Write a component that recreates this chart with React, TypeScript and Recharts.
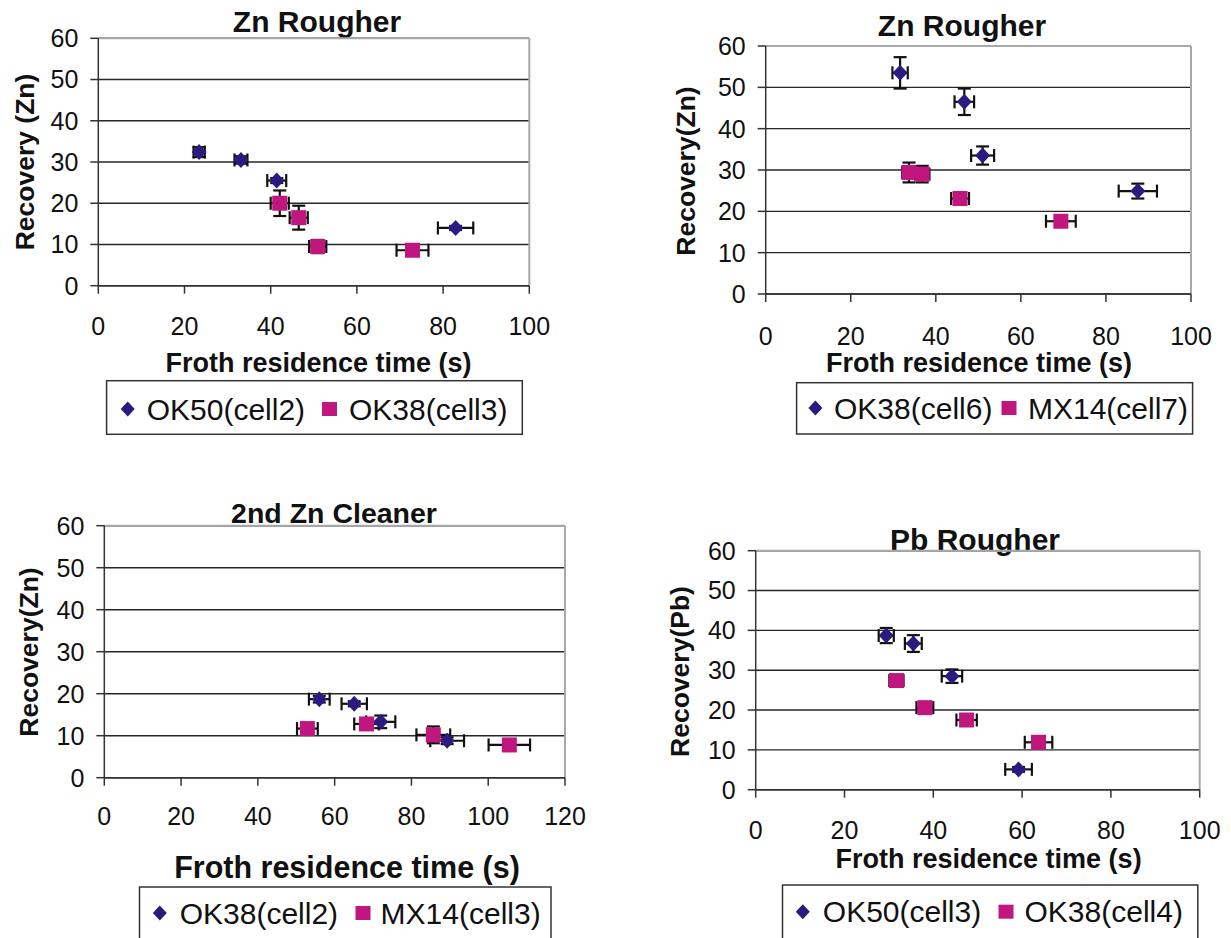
import React from 'react';
import { ScatterChart, Scatter, XAxis, YAxis, CartesianGrid, ErrorBar, ReferenceLine } from 'recharts';

const FONT = '"Liberation Sans", Arial, Helvetica, sans-serif';
const DIAMOND_COLOR = '#2B1A80';
const SQUARE_COLOR = '#C0167E';

// ---- tick labels ----
const yTicks = [0, 10, 20, 30, 40, 50, 60];
const xTicks100 = [0, 20, 40, 60, 80, 100];
const xTicks120 = [0, 20, 40, 60, 80, 100, 120];

// ---- chart 1 : Zn Rougher ----
const c1Names = ['OK50(cell2)', 'OK38(cell3)'];
const c1aX = [23.4, 33.1, 41.4, 82.9];
const c1aY = [32.4, 30.5, 25.5, 14.0];
const c1aXErr = [1.3, 1.5, 2.2, 4.1];
const c1aYErr = [1.2, 0.9, 0.6, 0.5];
const c1bX = [42.1, 46.5, 50.9, 72.9];
const c1bY = [20.0, 16.5, 9.5, 8.6];
const c1bXErr = [2.1, 2.1, 2.0, 3.7];
const c1bYErr = [3.1, 2.9, 1.6, 0.5];

// ---- chart 2 : Zn Rougher ----
const c2Names = ['OK38(cell6)', 'MX14(cell7)'];
const c2aX = [31.6, 46.7, 51.0, 87.5];
const c2aY = [53.5, 46.5, 33.5, 24.9];
const c2aXErr = [1.8, 2.3, 2.7, 4.5];
const c2aYErr = [3.8, 3.2, 2.2, 1.8];
const c2bX = [33.7, 36.8, 45.7, 69.4];
const c2bY = [29.4, 29.0, 23.1, 17.6];
const c2bXErr = [1.6, 1.7, 2.1, 3.5];
const c2bYErr = [2.4, 2.0, 0.8, 0.6];

// ---- chart 3 : 2nd Zn Cleaner ----
const c3Names = ['OK38(cell2)', 'MX14(cell3)'];
const c3aX = [56.0, 65.1, 72.0, 89.3];
const c3aY = [18.7, 17.6, 13.3, 8.8];
const c3aXErr = [2.7, 3.3, 3.8, 4.4];
const c3aYErr = [0.8, 0.6, 1.5, 0.8];
const c3bX = [52.9, 68.3, 85.7, 105.5];
const c3bY = [11.7, 12.8, 10.2, 7.8];
const c3bXErr = [2.7, 3.2, 4.4, 5.4];
const c3bYErr = [0.8, 1.0, 2.0, 0.6];

// ---- chart 4 : Pb Rougher ----
const c4Names = ['OK50(cell3)', 'OK38(cell4)'];
const c4aX = [29.4, 35.5, 44.2, 59.2];
const c4aY = [38.7, 36.7, 28.5, 5.1];
const c4aXErr = [1.7, 1.9, 2.3, 3.0];
const c4aYErr = [1.9, 2.1, 1.7, 0.6];
const c4bX = [31.7, 38.1, 47.5, 63.7];
const c4bY = [27.4, 20.6, 17.5, 11.9];
const c4bXErr = [1.6, 1.9, 2.3, 3.1];
const c4bYErr = [0.6, 0.8, 0.8, 0.8];

const build = (xs: number[], ys: number[], exs: number[], eys: number[]) =>
  xs.map((x, i) => ({ x, y: ys[i], ex: exs[i], ey: eys[i] }));

const DiamondShape = (p: any) => {
  const { cx, cy } = p;
  if (cx == null || cy == null) return null;
  const r = 8;
  return (
    <polygon
      points={`${cx},${cy - r} ${cx + r - 0.5},${cy} ${cx},${cy + r} ${cx - r + 0.5},${cy}`}
      fill={DIAMOND_COLOR}
    />
  );
};

const SquareShape = (p: any) => {
  const { cx, cy } = p;
  if (cx == null || cy == null) return null;
  return <rect x={cx - 7.5} y={cy - 7.5} width={15} height={15} fill={SQUARE_COLOR} />;
};

type Layout = {
  box: [number, number, number, number];
  plot: [number, number, number, number];
  xtm: number;
  title: [number, number, number];
  ylab: [number, number];
  xlab: [number, number, number];
  legBox: [number, number, number, number];
  leg: [number, number, number, number, number];
};

const layouts: Layout[] = [
  {
    box: [0, 0, 615, 469],
    plot: [98.3, 529.3, 38.3, 285.7],
    xtm: 24,
    title: [317, 32, 30],
    ylab: [25, 162],
    xlab: [318.5, 371.7, 27],
    legBox: [106.6, 380.7, 522.3, 434.3],
    leg: [127.7, 146.7, 329.5, 349, 409],
  },
  {
    box: [615, 0, 616, 469],
    plot: [765.7, 1191, 46, 294],
    xtm: 25,
    title: [962, 36, 30],
    ylab: [686, 171],
    xlab: [979, 372, 27],
    legBox: [796.6, 382.7, 1192.6, 434],
    leg: [815.4, 834, 1009, 1028, 408],
  },
  {
    box: [0, 469, 615, 469],
    plot: [104.3, 565, 525.7, 777.7],
    xtm: 22,
    title: [334, 523.3, 28.5],
    ylab: [28.5, 652],
    xlab: [347, 878, 30.5],
    legBox: [139.5, 887, 551, 970],
    leg: [159.8, 179.7, 363, 380.6, 913],
  },
  {
    box: [615, 469, 616, 469],
    plot: [755.7, 1199.7, 550.7, 789.7],
    xtm: 24,
    title: [975, 550, 30],
    ylab: [680, 671.5],
    xlab: [988.6, 868.3, 27],
    legBox: [782.5, 885, 1197.8, 970],
    leg: [802.8, 822.8, 1006, 1024.5, 911.7],
  },
];

type PanelProps = {
  cfg: Layout;
  s1: any[];
  s2: any[];
  names: string[];
  title: string;
  ylabel: string;
  xMax: number;
  xTicks: number[];
};

const Panel = ({ cfg, s1, s2, names, title, ylabel, xMax, xTicks }: PanelProps) => {
  const [bl, bt, bw, bh] = cfg.box;
  const [px0, px1, py0, py1] = cfg.plot;
  const xAxisH = 70;
  const margin = {
    left: 0,
    top: py0 - bt,
    right: bl + bw - px1,
    bottom: bt + bh - py1 - xAxisH,
  };
  const yAxisW = px0 - bl;
  const tickStyle = { fill: '#111', fontSize: 25, fontFamily: FONT };
  const axisStyle = { stroke: '#333', strokeWidth: 1.5 };
  const ylx = cfg.ylab[0] - bl;
  const yly = cfg.ylab[1] - bt;
  const [lx0, ly0, lx1, ly1] = cfg.legBox;
  const [dX, t1X, sX, t2X, lcy] = cfg.leg;
  const cy = lcy - bt;
  return (
    <div style={{ position: 'absolute', left: bl, top: bt, width: bw, height: bh }}>
      <ScatterChart width={bw} height={bh} margin={margin}>
        <CartesianGrid vertical={false} stroke="#262626" strokeWidth={1.4} />
        <XAxis
          type="number"
          dataKey="x"
          domain={[0, xMax]}
          ticks={xTicks}
          interval={0}
          height={xAxisH}
          tickSize={8}
          tickMargin={cfg.xtm}
          axisLine={axisStyle}
          tickLine={axisStyle}
          tick={tickStyle}
        />
        <YAxis
          type="number"
          dataKey="y"
          domain={[0, 60]}
          ticks={yTicks}
          interval={0}
          width={yAxisW}
          tickSize={8}
          tickMargin={12}
          axisLine={axisStyle}
          tickLine={axisStyle}
          tick={tickStyle}
        />
        <ReferenceLine y={60} stroke="#a8a8a8" strokeWidth={2} />
        <ReferenceLine x={xMax} stroke="#a8a8a8" strokeWidth={2} />
        <Scatter name={names[0]} data={s1} shape={DiamondShape} isAnimationActive={false}>
          <ErrorBar dataKey="ex" direction="x" width={6.5} stroke="#111" strokeWidth={2.2} isAnimationActive={false} />
          <ErrorBar dataKey="ey" direction="y" width={6.5} stroke="#111" strokeWidth={2.2} isAnimationActive={false} />
        </Scatter>
        <Scatter name={names[1]} data={s2} shape={SquareShape} isAnimationActive={false}>
          <ErrorBar dataKey="ex" direction="x" width={6.5} stroke="#111" strokeWidth={2.2} isAnimationActive={false} />
          <ErrorBar dataKey="ey" direction="y" width={6.5} stroke="#111" strokeWidth={2.2} isAnimationActive={false} />
        </Scatter>
        <text
          x={cfg.title[0] - bl}
          y={cfg.title[1] - bt}
          textAnchor="middle"
          fontFamily={FONT}
          fontWeight="bold"
          fontSize={cfg.title[2]}
          fill="#111"
        >
          {title}
        </text>
        <text
          x={ylx}
          y={yly}
          transform={`rotate(-90 ${ylx} ${yly})`}
          textAnchor="middle"
          dominantBaseline="central"
          fontFamily={FONT}
          fontWeight="bold"
          fontSize={26.5}
          fill="#111"
        >
          {ylabel}
        </text>
        <text
          x={cfg.xlab[0] - bl}
          y={cfg.xlab[1] - bt}
          textAnchor="middle"
          fontFamily={FONT}
          fontWeight="bold"
          fontSize={cfg.xlab[2]}
          fill="#111"
        >
          Froth residence time (s)
        </text>
        <g>
          <rect
            x={lx0 - bl}
            y={ly0 - bt}
            width={lx1 - lx0}
            height={ly1 - ly0}
            fill="#fff"
            stroke="#333"
            strokeWidth={1.5}
          />
          <polygon
            points={`${dX - bl},${cy - 7.5} ${dX - bl + 7},${cy} ${dX - bl},${cy + 7.5} ${dX - bl - 7},${cy}`}
            fill={DIAMOND_COLOR}
          />
          <text x={t1X - bl} y={cy} dominantBaseline="central" fontFamily={FONT} fontSize={30} fill="#111">
            {names[0]}
          </text>
          <rect x={sX - bl - 7.5} y={cy - 7} width={15} height={14} fill={SQUARE_COLOR} />
          <text x={t2X - bl} y={cy} dominantBaseline="central" fontFamily={FONT} fontSize={30} fill="#111">
            {names[1]}
          </text>
        </g>
      </ScatterChart>
    </div>
  );
};

export default function App() {
  return (
    <div
      style={{
        position: 'absolute',
        left: 0,
        top: 0,
        width: 1231,
        height: 938,
        overflow: 'hidden',
        background: '#fff',
      }}
    >
      <Panel
        cfg={layouts[0]}
        s1={build(c1aX, c1aY, c1aXErr, c1aYErr)}
        s2={build(c1bX, c1bY, c1bXErr, c1bYErr)}
        names={c1Names}
        title="Zn Rougher"
        ylabel="Recovery (Zn)"
        xMax={100}
        xTicks={xTicks100}
      />
      <Panel
        cfg={layouts[1]}
        s1={build(c2aX, c2aY, c2aXErr, c2aYErr)}
        s2={build(c2bX, c2bY, c2bXErr, c2bYErr)}
        names={c2Names}
        title="Zn Rougher"
        ylabel="Recovery(Zn)"
        xMax={100}
        xTicks={xTicks100}
      />
      <Panel
        cfg={layouts[2]}
        s1={build(c3aX, c3aY, c3aXErr, c3aYErr)}
        s2={build(c3bX, c3bY, c3bXErr, c3bYErr)}
        names={c3Names}
        title="2nd Zn Cleaner"
        ylabel="Recovery(Zn)"
        xMax={120}
        xTicks={xTicks120}
      />
      <Panel
        cfg={layouts[3]}
        s1={build(c4aX, c4aY, c4aXErr, c4aYErr)}
        s2={build(c4bX, c4bY, c4bXErr, c4bYErr)}
        names={c4Names}
        title="Pb Rougher"
        ylabel="Recovery(Pb)"
        xMax={100}
        xTicks={xTicks100}
      />
    </div>
  );
}
